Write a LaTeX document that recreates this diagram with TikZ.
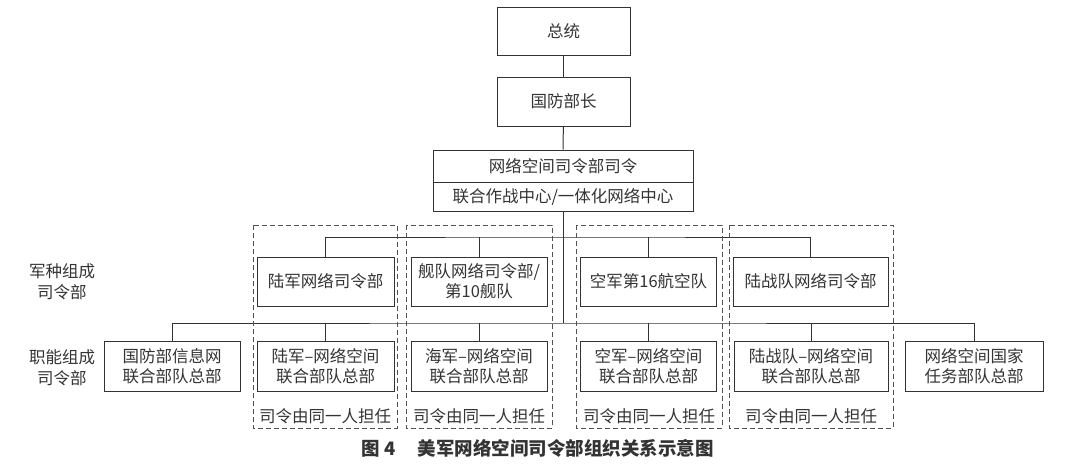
\documentclass[tikz,border=0pt]{standalone}
\usepackage{fontspec}
\setmainfont{Noto Sans CJK SC}
\usetikzlibrary{positioning}
\definecolor{ink}{HTML}{333333}
\tikzset{
  unit/.style={draw=ink, line width=1pt, text=ink, inner sep=0pt, align=center,
    minimum height=48pt, font=\fontsize{16.5}{20}\selectfont},
  wire/.style={draw=ink, line width=1pt},
  grp/.style={draw=ink!85, line width=0.8pt, dash pattern=on 5pt off 3pt},
  side/.style={text=ink, align=center, font=\fontsize{16.5}{21}\selectfont},
}
\begin{document}
\begin{tikzpicture}[x=1pt,y=-1pt]
\useasboundingbox (0,0) rectangle (1080,466);
% chain of command
\node[unit, minimum width=133pt] (pres) at (563.5,31) {总统};
\node[unit, minimum width=133pt, minimum height=49pt] (secdef) at (563.5,101.5) {国防部长};
\node[unit, minimum width=260pt, minimum height=32pt] (cmd) at (563,166) {网络空间司令部司令};
\node[unit, minimum width=260pt, minimum height=29pt] (joc) at (563,196.5) {联合作战中心/一体化网络中心};
\draw[wire] (pres) -- (secdef);
\draw[wire] (secdef) -- (cmd);
% service component commands
\node[unit, minimum width=137pt, minimum height=49pt] (army) at (325.5,281.5) {陆军网络司令部};
\node[unit, minimum width=136pt, minimum height=49pt] (fleet) at (479,281.5) {舰队网络司令部/\\第10舰队};
\node[unit, minimum width=136pt, minimum height=49pt] (air) at (648.5,281.5) {空军第16航空队};
\node[unit, minimum width=155pt, minimum height=49pt] (marine) at (810.5,281.5) {陆战队网络司令部};
% functional component commands
\node[unit, minimum width=136pt, minimum height=50pt] (dod) at (172,366.5) {国防部信息网\\联合部队总部};
\node[unit, minimum width=137pt, minimum height=50pt] (armyj) at (325.5,366.5) {陆军--网络空间\\联合部队总部};
\node[unit, minimum width=136pt, minimum height=50pt] (navyj) at (479,366.5) {海军--网络空间\\联合部队总部};
\node[unit, minimum width=136pt, minimum height=50pt] (airj) at (648.5,366.5) {空军--网络空间\\联合部队总部};
\node[unit, minimum width=154pt, minimum height=50pt] (marinej) at (811,366.5) {陆战队--网络空间\\联合部队总部};
\node[unit, minimum width=138pt, minimum height=50pt] (natl) at (974,366.5) {网络空间国家\\任务部队总部};
% buses
\coordinate (upbus) at (563,237);
\coordinate (lowbus) at (563,323);
\draw[wire] (joc) -- (lowbus);
\draw[wire] (army.north) |- (upbus) -| (marine.north);
\foreach \n in {fleet,air}
  \draw[wire] (\n.north) -- (\n.north |- upbus);
\draw[wire] (dod.north) |- (lowbus) -| (natl.north);
\foreach \n in {armyj,navyj,airj,marinej}
  \draw[wire] (\n.north) -- (\n.north |- lowbus);
% dashed groups, one commander each
\foreach \l/\r [count=\i] in {253/397,406/552,576/722,729/893}
{\draw[grp] (\l,225) rectangle (\r,428);
 \node[side, font=\fontsize{16.5}{20}\selectfont] (note\i) at ({(\l+\r)/2},416) {司令由同一人担任};
}
% row labels
\node[side] (svclbl) at (62,282) {军种组成\\司令部};
\node[side] (funclbl) at (62,368) {职能组成\\司令部};
% caption
\node[text=ink, font=\fontsize{18.5}{20}\selectfont\bfseries] (cap) at (537.5,448) {图 4\hspace{22pt}美军网络空间司令部组织关系示意图};
\end{tikzpicture}
\end{document}
